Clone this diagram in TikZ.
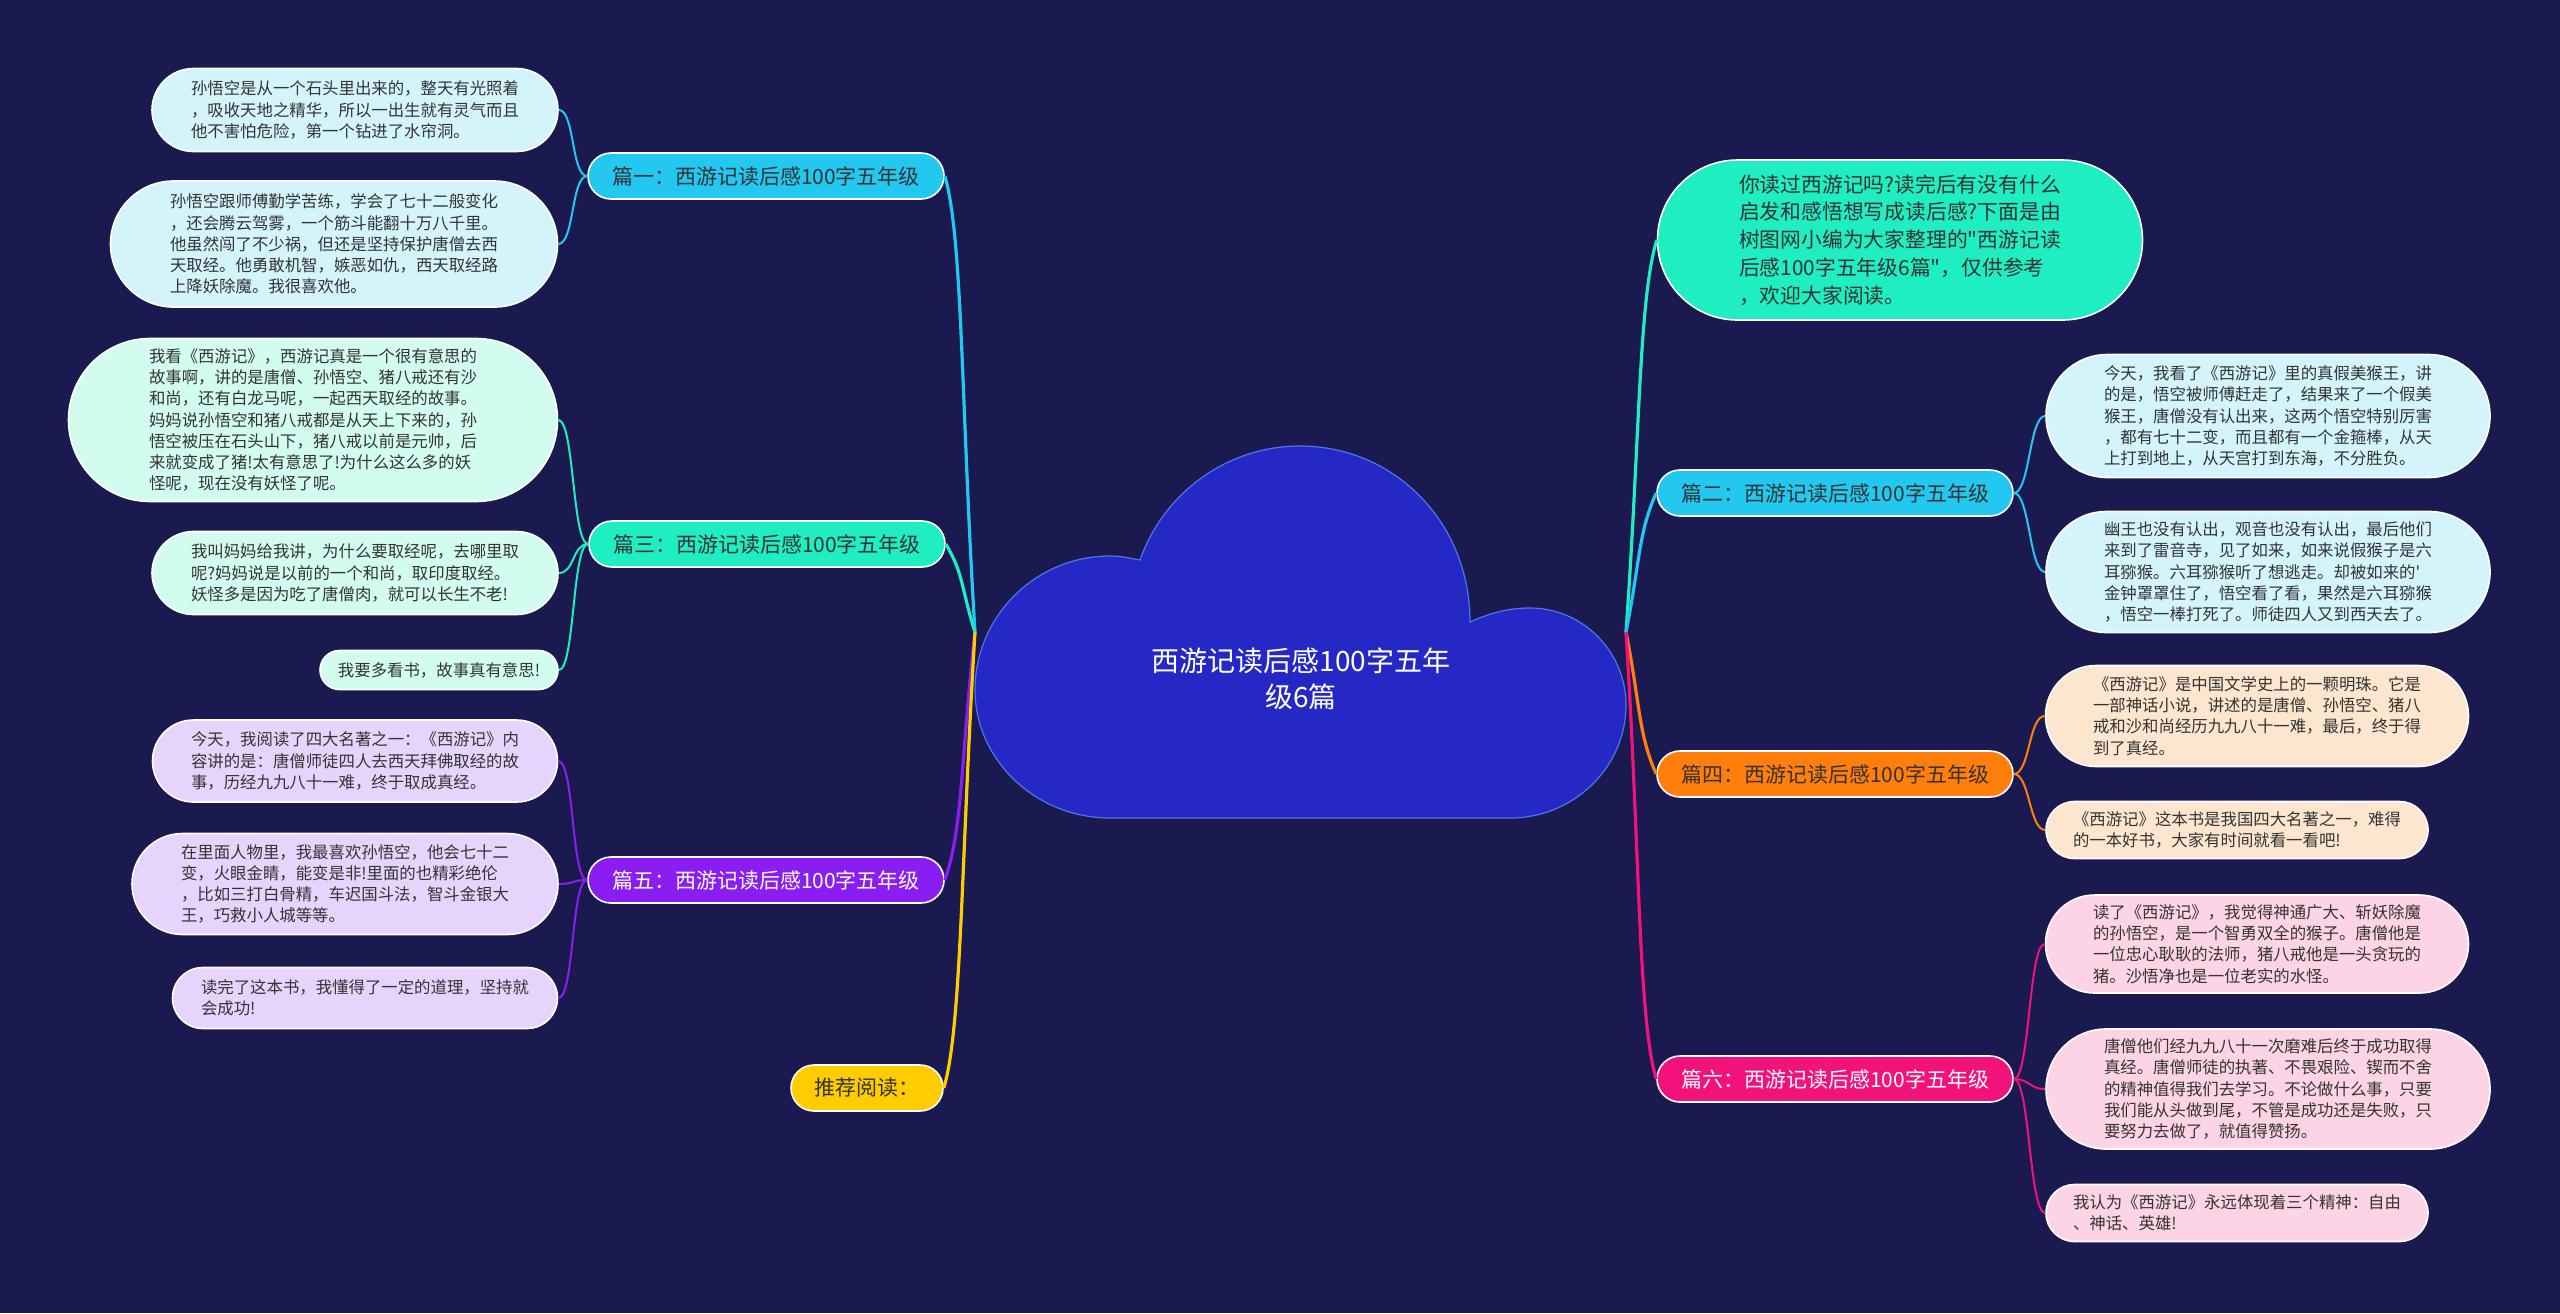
\documentclass[tikz,border=0pt]{standalone}
\usepackage{fontspec}
\newfontfamily\cjk{Noto Sans CJK SC}
\usetikzlibrary{shapes.misc}

\definecolor{bgnavy}{HTML}{1B1A50}
\definecolor{cloudblue}{HTML}{2528C4}
\definecolor{cloudedge}{HTML}{4A78E8}
\definecolor{cyanbr}{HTML}{22C8F0}
\definecolor{tealbr}{HTML}{1EEEC2}
\definecolor{purplebr}{HTML}{8A1DF2}
\definecolor{yellowbr}{HTML}{FFCC00}
\definecolor{orangebr}{HTML}{FF7E0C}
\definecolor{pinkbr}{HTML}{F2127C}
\definecolor{cyanlf}{HTML}{D4F4FC}
\definecolor{teallf}{HTML}{D3FCF0}
\definecolor{purplelf}{HTML}{E7D4FC}
\definecolor{orangelf}{HTML}{FDE6CF}
\definecolor{pinklf}{HTML}{FCD4E6}
\definecolor{txtdark}{HTML}{333333}

\tikzset{
  pill/.style={rounded rectangle, draw=white, line width=0.8pt, inner xsep=0pt, inner ysep=0pt, align=left},
  branch/.style={pill, minimum width=178pt, minimum height=23pt, text=txtdark, font=\cjk\fontsize{10.5}{12}\selectfont},
  leaf/.style={pill, text=txtdark, font=\cjk\fontsize{8.2}{10.6}\selectfont},
  link/.style={line width=1pt},
  mainlink/.style={line width=1.6pt},
}

\begin{document}
\begin{tikzpicture}[x=0.5pt,y=0.5pt]

\fill[bgnavy] (0,0) rectangle (2560,-1313);

\filldraw[fill=cloudblue, draw=cloudedge, line width=0.6pt]
  (1110,-818) .. controls (1036,-818) and (975,-760) .. (975,-690)
  .. controls (975,-616) and (1036,-556) .. (1110,-556)
  .. controls (1120,-556) and (1130,-558) .. (1140,-560)
  .. controls (1164,-492) and (1228,-446) .. (1300,-446)
  .. controls (1394,-446) and (1470,-522) .. (1470,-622)
  .. controls (1490,-613) and (1508,-608) .. (1530,-608)
  .. controls (1583,-608) and (1626,-652) .. (1626,-705)
  .. controls (1626,-767) and (1574,-818) .. (1510,-818) -- cycle;
\node[text=white, align=center, font=\cjk\fontsize{14}{18}\selectfont] (root) at (1301,-679) {西游记读后感100字五年\\级6篇};
\coordinate (cl) at (975,-632);
\coordinate (cr) at (1626,-632);

\node[branch, fill=cyanbr] (b1) at (766,-176) {篇一：西游记读后感100字五年级};
\node[branch, fill=tealbr] (b3) at (767,-544) {篇三：西游记读后感100字五年级};
\node[branch, fill=purplebr, text=white] (b5) at (766,-880) {篇五：西游记读后感100字五年级};
\node[branch, fill=yellowbr, minimum width=76pt] (b7) at (867,-1088) {推荐阅读：};
\node[branch, fill=cyanbr] (b2) at (1835,-493) {篇二：西游记读后感100字五年级};
\node[branch, fill=orangebr] (b4) at (1835,-774) {篇四：西游记读后感100字五年级};
\node[branch, fill=pinkbr, text=white] (b6) at (1835,-1079) {篇六：西游记读后感100字五年级};

\node[pill, fill=tealbr, text=txtdark, minimum width=242.5pt, minimum height=80pt, font=\cjk\fontsize{10.4}{13.9}\selectfont] (intro) at (1900,-240) {你读过西游记吗?读完后有没有什么\\启发和感悟想写成读后感?下面是由\\树图网小编为大家整理的"西游记读\\后感100字五年级6篇"，仅供参考\\，欢迎大家阅读。};

\node[leaf, fill=cyanlf, minimum width=203pt, minimum height=41.5pt] (l1a) at (355,-110) {孙悟空是从一个石头里出来的，整天有光照着\\，吸收天地之精华，所以一出生就有灵气而且\\他不害怕危险，第一个钻进了水帘洞。};
\node[leaf, fill=cyanlf, minimum width=223.5pt, minimum height=63pt] (l1b) at (334,-244) {孙悟空跟师傅勤学苦练，学会了七十二般变化\\，还会腾云驾雾，一个筋斗能翻十万八千里。\\他虽然闯了不少祸，但还是坚持保护唐僧去西\\天取经。他勇敢机智，嫉恶如仇，西天取经路\\上降妖除魔。我很喜欢他。};

\node[leaf, fill=teallf, minimum width=244.5pt, minimum height=81.5pt] (l3a) at (313,-420) {我看《西游记》，西游记真是一个很有意思的\\故事啊，讲的是唐僧、孙悟空、猪八戒还有沙\\和尚，还有白龙马呢，一起西天取经的故事。\\妈妈说孙悟空和猪八戒都是从天上下来的，孙\\悟空被压在石头山下，猪八戒以前是元帅，后\\来就变成了猪!太有意思了!为什么这么多的妖\\怪呢，现在没有妖怪了呢。};
\node[leaf, fill=teallf, minimum width=203pt, minimum height=41.5pt] (l3b) at (355,-573) {我叫妈妈给我讲，为什么要取经呢，去哪里取\\呢?妈妈说是以前的一个和尚，取印度取经。\\妖怪多是因为吃了唐僧肉，就可以长生不老!};
\node[leaf, fill=teallf, minimum width=119pt, minimum height=19.5pt] (l3c) at (439,-670) {我要多看书，故事真有意思!};

\node[leaf, fill=purplelf, minimum width=202.5pt, minimum height=41pt] (l5a) at (355,-761) {今天，我阅读了四大名著之一：《西游记》内\\容讲的是：唐僧师徒四人去西天拜佛取经的故\\事，历经九九八十一难，终于取成真经。};
\node[leaf, fill=purplelf, minimum width=213pt, minimum height=50.5pt] (l5b) at (345,-884) {在里面人物里，我最喜欢孙悟空，他会七十二\\变，火眼金睛，能变是非!里面的也精彩绝伦\\，比如三打白骨精，车迟国斗法，智斗金银大\\王，巧救小人城等等。};
\node[leaf, fill=purplelf, minimum width=192.5pt, minimum height=30.5pt] (l5c) at (365,-998) {读完了这本书，我懂得了一定的道理，坚持就\\会成功!};

\node[leaf, fill=cyanlf, minimum width=222pt, minimum height=61.5pt] (r2a) at (2268,-416) {今天，我看了《西游记》里的真假美猴王，讲\\的是，悟空被师傅赶走了，结果来了一个假美\\猴王，唐僧没有认出来，这两个悟空特别厉害\\，都有七十二变，而且都有一个金箍棒，从天\\上打到地上，从天宫打到东海，不分胜负。};
\node[leaf, fill=cyanlf, minimum width=222pt, minimum height=60.5pt] (r2b) at (2268,-572) {幽王也没有认出，观音也没有认出，最后他们\\来到了雷音寺，见了如来，如来说假猴子是六\\耳猕猴。六耳猕猴听了想逃走。却被如来的'\\金钟罩罩住了，悟空看了看，果然是六耳猕猴\\，悟空一棒打死了。师徒四人又到西天去了。};

\node[leaf, fill=orangelf, minimum width=211.5pt, minimum height=50.5pt] (r4a) at (2257,-716) {《西游记》是中国文学史上的一颗明珠。它是\\一部神话小说，讲述的是唐僧、孙悟空、猪八\\戒和沙和尚经历九九八十一难，最后，终于得\\到了真经。};
\node[leaf, fill=orangelf, minimum width=191pt, minimum height=28.5pt] (r4b) at (2237,-830) {《西游记》这本书是我国四大名著之一，难得\\的一本好书，大家有时间就看一看吧!};

\node[leaf, fill=pinklf, minimum width=211.5pt, minimum height=49pt] (r6a) at (2257,-944) {读了《西游记》，我觉得神通广大、斩妖除魔\\的孙悟空，是一个智勇双全的猴子。唐僧他是\\一位忠心耿耿的法师，猪八戒他是一头贪玩的\\猪。沙悟净也是一位老实的水怪。};
\node[leaf, fill=pinklf, minimum width=222pt, minimum height=60pt] (r6b) at (2268,-1089) {唐僧他们经九九八十一次磨难后终于成功取得\\真经。唐僧师徒的执著、不畏艰险、锲而不舍\\的精神值得我们去学习。不论做什么事，只要\\我们能从头做到尾，不管是成功还是失败，只\\要努力去做了，就值得赞扬。};
\node[leaf, fill=pinklf, minimum width=191pt, minimum height=28.5pt] (r6c) at (2237,-1213) {我认为《西游记》永远体现着三个精神：自由\\、神话、英雄!};

\draw[mainlink, cyanbr] (cl) .. controls +(-14,228) and +(18,-60) .. (b1.east);
\draw[mainlink, tealbr] (cl) .. controls +(-14,44) and +(18,-30) .. (b3.east);
\draw[mainlink, purplebr] (cl) .. controls +(-14,-124) and +(18,50) .. (b5.east);
\draw[mainlink, yellowbr] (cl) .. controls +(-14,-228) and +(18,60) .. (b7.east);
\draw[mainlink, tealbr] (cr) .. controls +(14,196) and +(-18,-60) .. (intro.west);
\draw[mainlink, cyanbr] (cr) .. controls +(14,70) and +(-18,-40) .. (b2.west);
\draw[mainlink, orangebr] (cr) .. controls +(14,-71) and +(-18,40) .. (b4.west);
\draw[mainlink, pinkbr] (cr) .. controls +(14,-223) and +(-18,60) .. (b6.west);

\foreach \a/\b in {b1/l1a, b1/l1b}
  \draw[link, cyanbr] (\a.west) .. controls +(-16,0) and +(16,0) .. (\b.east);
\foreach \a/\b in {b3/l3a, b3/l3b, b3/l3c}
  \draw[link, tealbr] (\a.west) .. controls +(-16,0) and +(16,0) .. (\b.east);
\foreach \a/\b in {b5/l5a, b5/l5b, b5/l5c}
  \draw[link, purplebr] (\a.west) .. controls +(-16,0) and +(16,0) .. (\b.east);
\foreach \a/\b in {b2/r2a, b2/r2b}
  \draw[link, cyanbr] (\a.east) .. controls +(16,0) and +(-16,0) .. (\b.west);
\foreach \a/\b in {b4/r4a, b4/r4b}
  \draw[link, orangebr] (\a.east) .. controls +(16,0) and +(-16,0) .. (\b.west);
\foreach \a/\b in {b6/r6a, b6/r6b, b6/r6c}
  \draw[link, pinkbr] (\a.east) .. controls +(16,0) and +(-16,0) .. (\b.west);

\end{tikzpicture}
\end{document}
